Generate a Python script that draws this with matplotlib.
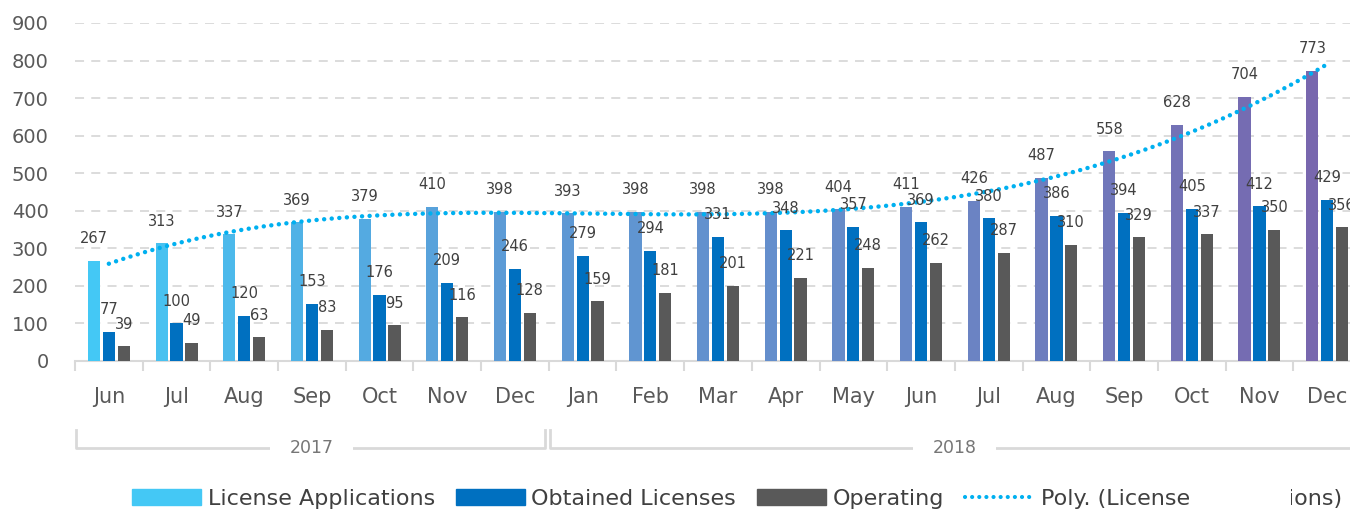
import numpy as np
import matplotlib
matplotlib.use("Agg")
import matplotlib.pyplot as plt
from matplotlib.colors import LinearSegmentedColormap
from matplotlib.lines import Line2D
from matplotlib.patches import Patch, Rectangle

# data
months = ["Jun", "Jul", "Aug", "Sep", "Oct", "Nov", "Dec",
          "Jan", "Feb", "Mar", "Apr", "May", "Jun", "Jul", "Aug", "Sep", "Oct", "Nov", "Dec"]
years = ["2017", "2018"]
year_len = [7, 12]
applications = [267, 313, 337, 369, 379, 410, 398, 393, 398, 398, 398, 404, 411, 426, 487, 558, 628, 704, 773]
obtained = [77, 100, 120, 153, 176, 209, 246, 279, 294, 331, 348, 357, 369, 380, 386, 394, 405, 412, 429]
operating = [39, 49, 63, 83, 95, 116, 128, 159, 181, 201, 221, 248, 262, 287, 310, 329, 337, 350, 356]

plt.rcParams['font.family'] = ['DejaVu Sans']
TXT = '#595959'
GRID = '#D9D9D9'

fig = plt.figure(figsize=(13.5, 5.09), dpi=100)
ax = fig.add_axes([75 / 1350, 148 / 509, 1286 / 1350, 338 / 509])

x = np.arange(len(months))
w = 0.18
off = 0.22

# light series fades from cyan to purple
cmap = LinearSegmentedColormap.from_list("apps", ["#44C8F5", "#5C9BD6", "#6888C7", "#7867AE"])
app_colors = [cmap(i / (len(x) - 1)) for i in x]

ax.bar(x - off, applications, w, color=app_colors, zorder=3)
ax.bar(x, obtained, w, color='#0070C0', zorder=3)
ax.bar(x + off, operating, w, color='#595959', zorder=3)

for xs, vals in [(x - off, applications), (x, obtained), (x + off, operating)]:
    for xi, v in zip(xs, vals):
        ax.annotate(str(v), (xi, v), xytext=(0, 16), textcoords='offset points',
                    ha='center', va='center', fontsize=10.5, color='#404040', zorder=5)

# polynomial trend of applications
coef = np.polyfit(x, applications, 4)
xf = np.linspace(0, len(x) - 1, 300)
ax.plot(xf, np.polyval(coef, xf), color='#00B0F0', lw=3.2,
        linestyle=(0, (0.01, 1.7)), dash_capstyle='round', zorder=4)

ax.set_xlim(-0.5, len(x) - 0.5)
ax.set_ylim(0, 900)
ax.set_yticks(range(0, 1000, 100))
ax.yaxis.grid(True, color=GRID, linestyle=(0, (5, 4)), lw=1.3, zorder=0)
ax.tick_params(axis='y', length=0, pad=19, labelsize=14, labelcolor=TXT)

ax.set_xticks(x)
ax.set_xticklabels(months)
ax.set_xticks(np.arange(-0.5, len(x), 1), minor=True)
ax.tick_params(axis='x', which='major', length=0, pad=19, labelsize=15, labelcolor=TXT)
ax.tick_params(axis='x', which='minor', length=7, width=1.5, color=GRID)

for s in ['top', 'right', 'left']:
    ax.spines[s].set_visible(False)
ax.spines['bottom'].set_color(GRID)
ax.spines['bottom'].set_linewidth(1.5)

# year brackets
tr = ax.get_xaxis_transform()
y_top, y_bot = -0.204, -0.258
start = -0.5
for yr, n in zip(years, year_len):
    x0, x1 = start + 0.02, start + n - 0.06
    ax.add_line(Line2D([x0, x0, x1, x1], [y_top, y_bot, y_bot, y_top], transform=tr,
                       color=GRID, lw=2, clip_on=False))
    ax.text((start + start + n) / 2, y_bot, yr, transform=tr, ha='center', va='center',
            fontsize=12.5, color='#767676',
            bbox=dict(facecolor='white', edgecolor='none', pad=14))
    start += n

handles = [Patch(color='#44C8F5'), Patch(color='#0070C0'), Patch(color='#595959'),
           Line2D([], [], color='#00B0F0', lw=3, linestyle=(0, (0.01, 1.7)), dash_capstyle='round')]
labels = ["License Applications", "Obtained Licenses", "Operating", "Poly. (License Applications)"]
fig.legend(handles, labels, loc='center', bbox_to_anchor=(737 / 1350, 10 / 509), ncol=4,
           frameon=False, fontsize=16, labelcolor='#404040', handlelength=3.1, handletextpad=0.3,
           columnspacing=0.95, borderaxespad=0, borderpad=0)

# part of the last legend label is hidden in the reference
fig.add_artist(Rectangle((1196 / 1350, 0), 95 / 1350, 26 / 509, transform=fig.transFigure,
                         facecolor='white', edgecolor='none', zorder=10))

fig.savefig("out.png", dpi=100)
